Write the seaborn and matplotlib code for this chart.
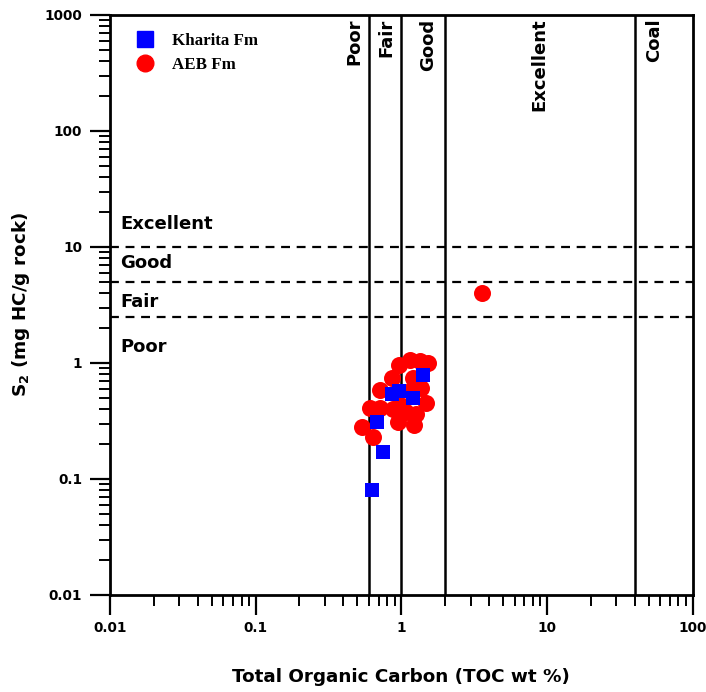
import matplotlib
matplotlib.use("Agg")
import matplotlib.pyplot as plt
import seaborn as sns
import pandas as pd
import numpy as np
from matplotlib.lines import Line2D
from matplotlib.ticker import LogLocator, FixedLocator, FixedFormatter, NullFormatter

# ---- data ----
kharita_toc = [0.63, 0.75, 0.68, 0.86, 0.97, 1.20, 1.40]
kharita_s2 = [0.08, 0.17, 0.31, 0.54, 0.57, 0.50, 0.78]

aeb_toc = [0.54, 0.64, 0.61, 0.71, 0.71, 0.86, 0.96, 1.14, 1.34, 1.53,
           1.20, 1.37, 1.48, 0.95, 1.23, 1.08, 0.88, 0.98, 1.27, 1.14, 3.6]
aeb_s2 = [0.28, 0.23, 0.41, 0.41, 0.59, 0.74, 0.96, 1.07, 1.03, 1.00,
          0.74, 0.61, 0.45, 0.31, 0.29, 0.38, 0.40, 0.43, 0.36, 0.57, 4.0]

toc_bounds = [0.6, 1, 2, 40]
toc_classes = ["Poor", "Fair", "Good", "Excellent", "Coal"]
toc_class_x = [0.48, 0.79, 1.52, 8.9, 54.8]
s2_bounds = [2.5, 5, 10]
s2_classes = ["Poor", "Fair", "Good", "Excellent"]
s2_class_y = [1.37, 3.36, 7.3, 15.8]

xticks = [0.01, 0.1, 1, 10, 100]
xticklabels = ["0.01", "0.1", "1", "10", "100"]
yticks = [0.01, 0.1, 1, 10, 100, 1000]
yticklabels = ["0.01", "0.1", "1", "10", "100", "1000"]

df = pd.DataFrame({
    "TOC": aeb_toc + kharita_toc,
    "S2": aeb_s2 + kharita_s2,
    "Formation": ["AEB Fm"] * len(aeb_toc) + ["Kharita Fm"] * len(kharita_toc),
})

sns.set_style("ticks")
plt.rcParams["font.family"] = ["DejaVu Sans"]
plt.rcParams.update({"text.color": "black", "axes.labelcolor": "black",
                     "xtick.color": "black", "ytick.color": "black",
                     "xtick.labelcolor": "black", "ytick.labelcolor": "black"})

fig = plt.figure(figsize=(7.06, 6.92), dpi=100)
ax = fig.add_axes([0.1558, 0.1402, 0.8251, 0.8382])
ax.set_xscale("log")
ax.set_yscale("log")
ax.set_xlim(0.01, 100)
ax.set_ylim(0.01, 1000)

for b in toc_bounds:
    ax.axvline(b, color="black", lw=1.8, zorder=1)
for b in s2_bounds:
    ax.axhline(b, color="black", lw=1.6, ls=(0, (4, 3)), zorder=1)

sns.scatterplot(data=df[df.Formation == "AEB Fm"], x="TOC", y="S2", color="#ff0000",
                marker="o", s=150, linewidth=0, ax=ax, zorder=3, legend=False)
sns.scatterplot(data=df[df.Formation == "Kharita Fm"], x="TOC", y="S2", color="#0000ff",
                marker="s", s=115, linewidth=0, ax=ax, zorder=4, legend=False)

for name, xv in zip(toc_classes, toc_class_x):
    ax.text(xv, 930, name, rotation=90, ha="center", va="top", fontsize=13,
            fontweight="bold", color="black")
for name, yv in zip(s2_classes, s2_class_y):
    ax.text(0.0117, yv, name, ha="left", va="center", fontsize=13, fontweight="bold",
            color="black")

# legend
handles = [Line2D([], [], ls="", marker="s", color="#0000ff", markersize=11),
           Line2D([], [], ls="", marker="o", color="#ff0000", markersize=12)]
leg = ax.legend(handles, ["Kharita Fm", "AEB Fm"], loc="upper left",
                bbox_to_anchor=(0.005, 0.995), frameon=False, handletextpad=0.6,
                labelspacing=0.45,
                prop={"family": "Liberation Serif", "size": 12.2, "weight": "bold"})
for t in leg.get_texts():
    t.set_color("black")

ax.xaxis.set_major_locator(FixedLocator(xticks))
ax.xaxis.set_major_formatter(FixedFormatter(xticklabels))
ax.yaxis.set_major_locator(FixedLocator(yticks))
ax.yaxis.set_major_formatter(FixedFormatter(yticklabels))
ax.xaxis.set_minor_locator(LogLocator(base=10, subs=np.arange(2, 10)))
ax.yaxis.set_minor_locator(LogLocator(base=10, subs=np.arange(2, 10)))
ax.xaxis.set_minor_formatter(NullFormatter())
ax.yaxis.set_minor_formatter(NullFormatter())
ax.tick_params(axis="both", which="major", direction="out", length=14.5, width=1.6,
               labelsize=9.8, color="black", labelcolor="black")
ax.tick_params(axis="x", which="major", pad=4)
ax.tick_params(axis="y", which="major", pad=5.5)
ax.tick_params(axis="both", which="minor", direction="out", length=8, width=1.4, color="black")
for lab in ax.get_xticklabels() + ax.get_yticklabels():
    lab.set_fontweight("bold")

for sp in ax.spines.values():
    sp.set_linewidth(2)
    sp.set_color("black")

ax.set_xlabel("Total Organic Carbon (TOC wt %)", fontsize=13.2, fontweight="bold",
              labelpad=24, color="black")
ax.set_ylabel("S$_\\mathbf{2}$ (mg HC/g rock)", fontsize=13.2, fontweight="bold",
              labelpad=9, color="black")

fig.savefig("out.png", dpi=100)
